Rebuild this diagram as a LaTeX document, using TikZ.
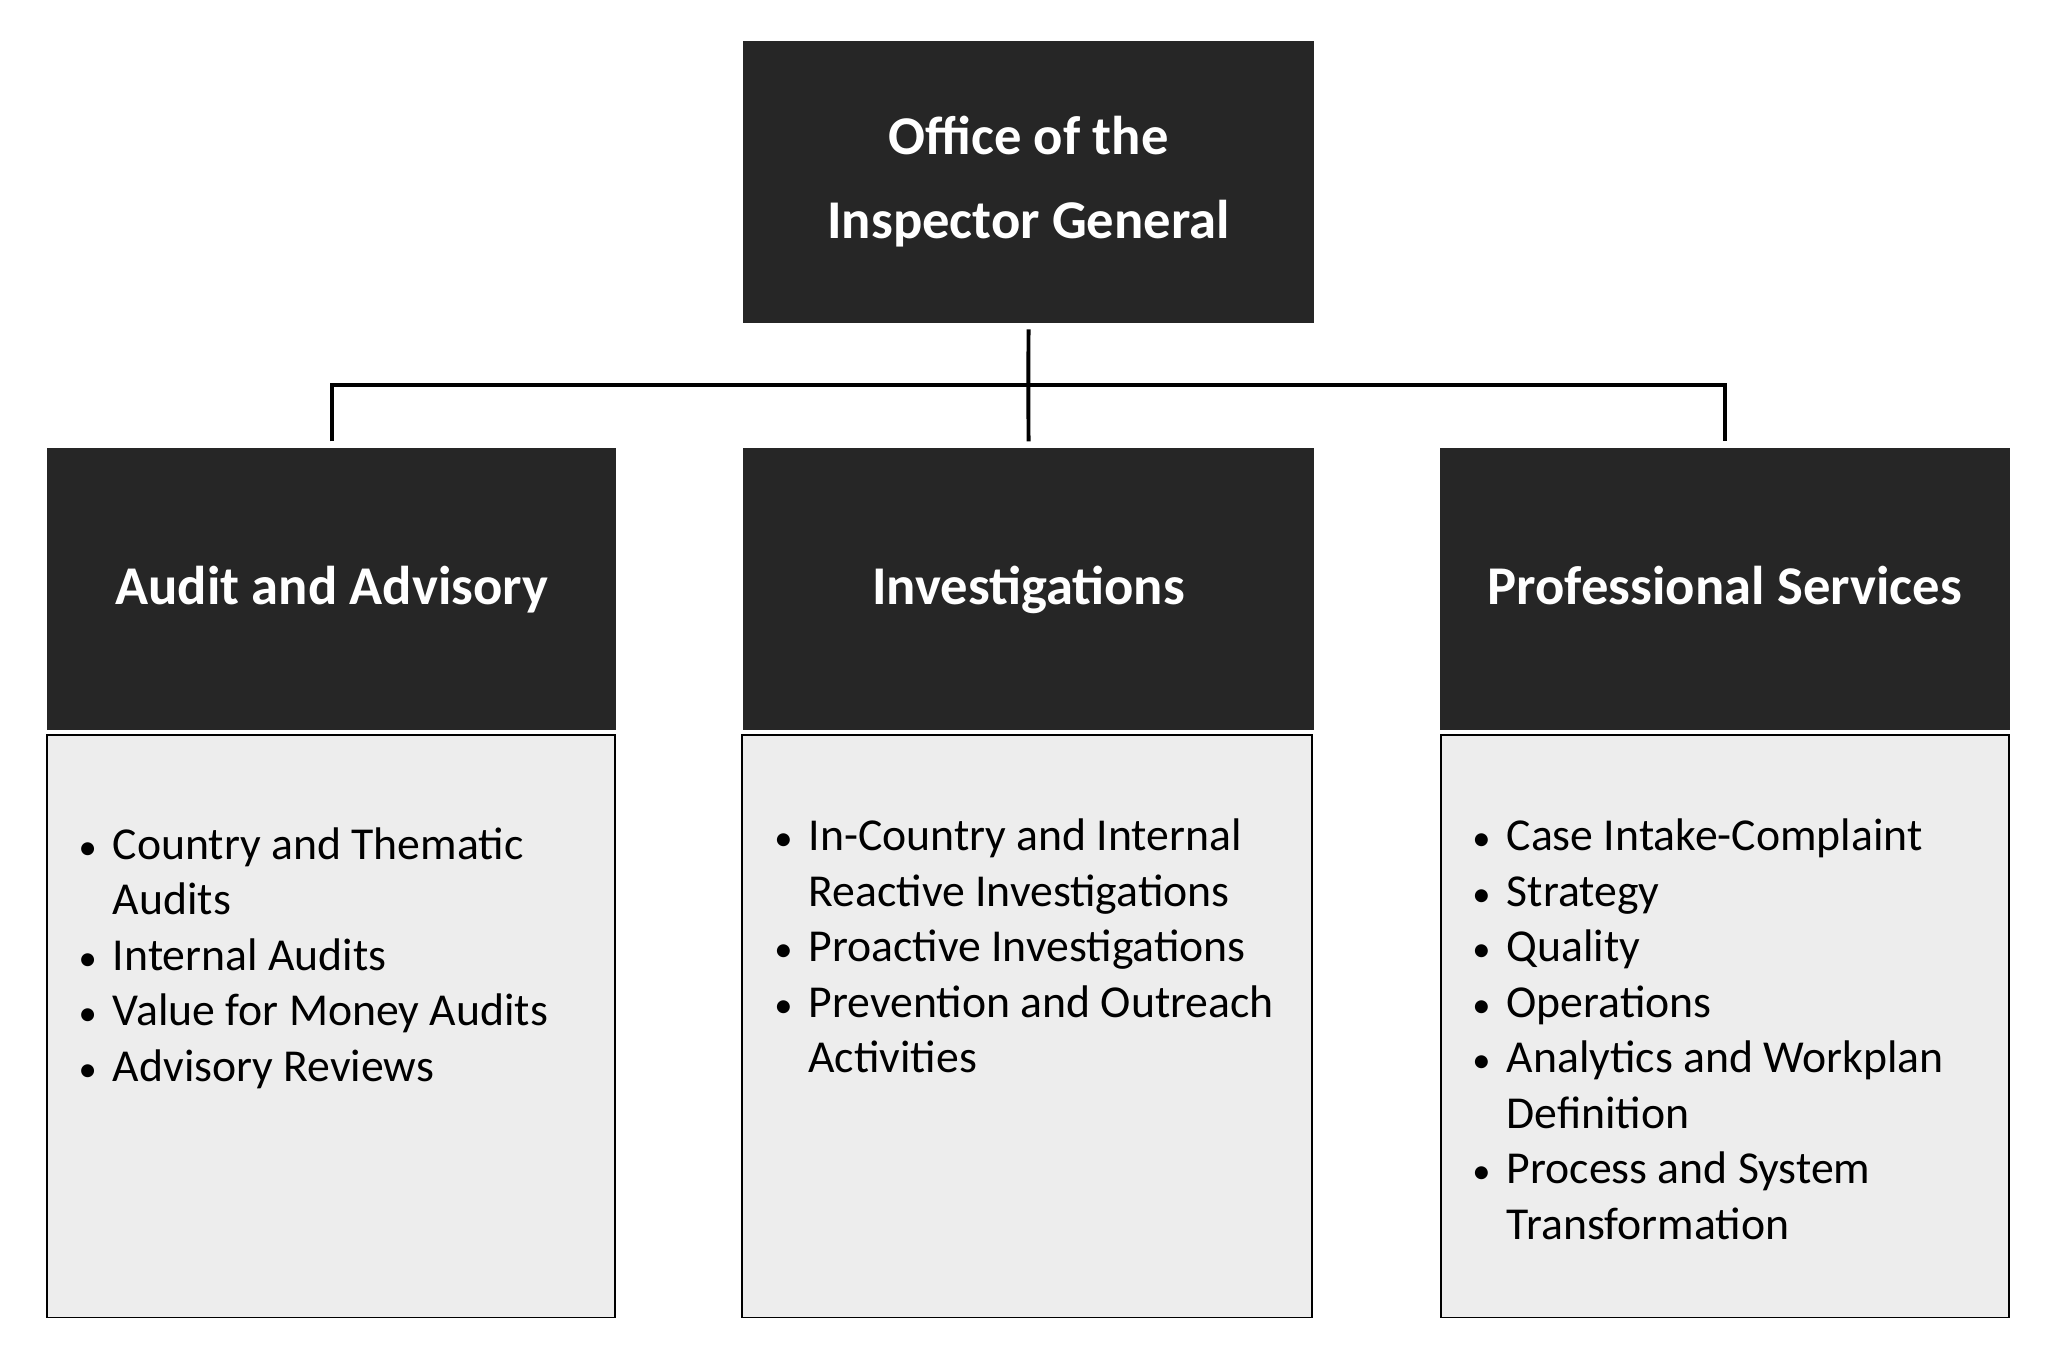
\documentclass[tikz,border=0pt]{standalone}
\usepackage{fontspec}
\usepackage{graphicx}
\setmainfont{Carlito}
\definecolor{darkbox}{HTML}{262626}
\definecolor{lightbox}{HTML}{EDEDED}
\begin{document}
\begin{tikzpicture}[x=1pt,y=-1pt,
  darkbox/.style={draw=none,fill=darkbox,inner sep=0pt,anchor=north west,text=white,
    font=\fontsize{41.7}{63.7}\selectfont\bfseries,align=center},
  headbox/.style={darkbox,text height=30pt,text depth=7pt},
  bodybox/.style={draw=black,line width=1.5pt,fill=lightbox,anchor=north west,inner sep=0pt},
  item/.style={anchor=base west,inner sep=0pt,font=\fontsize{34.9}{42.4}\selectfont,text=black},
  conn/.style={draw=black,line width=3pt}]
\useasboundingbox[fill=white] (0,0) rectangle (1568,1039);
% top box
\node[darkbox,minimum width=436pt,minimum height=215pt] (top) at (567,31) {Office of the\\Inspector General};
% header boxes
\node[headbox,minimum width=434pt,minimum height=215pt] (hA) at (36,342) {Audit and Advisory};
\node[headbox,minimum width=436pt,minimum height=215pt] (hI) at (567,342) {Investigations};
\node[headbox,minimum width=435pt,minimum height=215pt] (hP) at (1099,342) {Professional Services};
% body boxes
\node[bodybox,minimum width=434pt,minimum height=445pt] (bA) at (35,560) {};
\node[bodybox,minimum width=435pt,minimum height=445pt] (bI) at (566,560) {};
\node[bodybox,minimum width=434pt,minimum height=445pt] (bP) at (1099,560) {};
% connectors
\coordinate (jc) at (785,294);
\draw[conn,shorten <=5pt] (top.south) -- (jc);
\draw[conn,shorten >=5pt] (jc) -- (hI.north);
\draw[conn,shorten <=5pt,shorten >=5pt] (hA.north) -- (hA.north |- jc) -- (hP.north |- jc) -- (hP.north);
% lists
\newcommand{\bul}{\llap{\makebox[38.4pt][c]{\scalebox{0.8}{•}}}}
\node[item] (a1) at (86,656) {\bul Country and Thematic};
\node[item] (a2) at (86,698.4) {Audits};
\node[item] (a3) at (86,740.8) {\bul Internal Audits};
\node[item] (a4) at (86,783.2) {\bul Value for Money Audits};
\node[item] (a5) at (86,825.6) {\bul Advisory Reviews};
\node[item] (i1) at (617,649.4) {\bul In-Country and Internal};
\node[item] (i2) at (617,691.8) {Reactive Investigations};
\node[item] (i3) at (617,734.2) {\bul Proactive Investigations};
\node[item] (i4) at (617,776.6) {\bul Prevention and Outreach};
\node[item] (i5) at (617,819) {Activities};
\node[item] (p1) at (1150,649.4) {\bul Case Intake-Complaint};
\node[item] (p2) at (1150,691.8) {\bul Strategy};
\node[item] (p3) at (1150,734.2) {\bul Quality};
\node[item] (p4) at (1150,776.6) {\bul Operations};
\node[item] (p5) at (1150,819) {\bul Analytics and Workplan};
\node[item] (p6) at (1150,861.4) {Definition};
\node[item] (p7) at (1150,903.8) {\bul Process and System};
\node[item] (p8) at (1150,946.2) {Transformation};
\end{tikzpicture}
\end{document}
